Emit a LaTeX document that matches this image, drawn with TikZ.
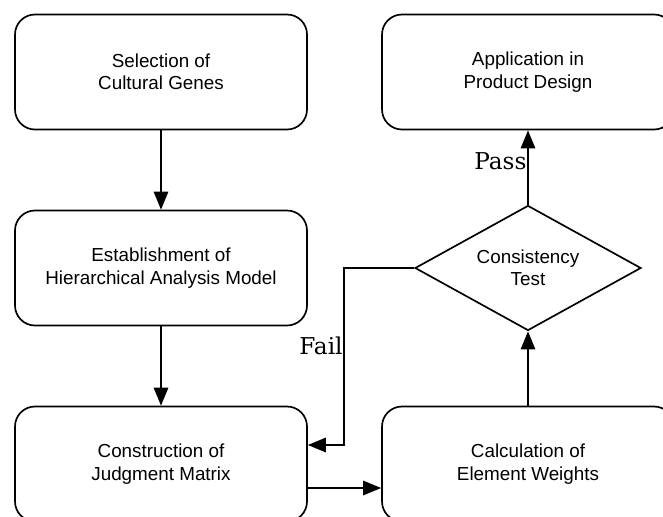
\documentclass[tikz,border=0pt]{standalone}
\usepackage{fontspec}
\setsansfont{Liberation Sans}
\newfontfamily\tagfont{DejaVu Serif}
\usetikzlibrary{shapes.geometric,arrows.meta}
\begin{document}
\begin{tikzpicture}[
       node distance=4.9cm,
       stepbox/.style={rectangle, draw=black, line width=1.2pt, minimum width=7.3cm, minimum height=2.875cm, align=center, rounded corners=0.5cm, font=\sffamily\fontsize{13.4}{16}\selectfont},
       decision/.style={diamond, draw=black, line width=1.2pt, shape aspect=1.81, minimum width=5.65cm, minimum height=3.125cm, inner sep=0pt, align=center, font=\sffamily\fontsize{13.4}{16}\selectfont},
       arrow/.style={-{Triangle[length=0.45cm, width=0.36cm]}, line width=1.2pt, black},
       tag/.style={font=\tagfont\fontsize{16.5}{20}\selectfont, inner sep=0.5pt}
   ]
   \useasboundingbox (0,0) rectangle (16.575,-12.9);
   \node[stepbox] (select) at (4.025,-1.8) {Selection of\\Cultural Genes};
   \node[stepbox, below of=select] (model) {Establishment of\\Hierarchical Analysis Model};
   \node[stepbox, below of=model] (matrix) {Construction of\\Judgment Matrix};
   \node[stepbox] (weights) at (13.2,-11.6) {Calculation of\\Element Weights};
   \node[decision] (test) at (13.2,-6.7) {Consistency\\Test};
   \node[stepbox] (apply) at (13.2,-1.8) {Application in\\Product Design};

   \draw[arrow] (select) -- (model);
   \draw[arrow] (model) -- (matrix);
   \draw[arrow] ([yshift=-0.6cm]matrix.east) -- ([yshift=-0.6cm]weights.west);
   \draw[arrow] (weights) -- (test);
   \draw[arrow] (test) -- node[tag, left, pos=0.58] {Pass} (apply);
   \draw[arrow] (test.west) -- ++(-1.75,0) |- node[tag, left, pos=0.22] {Fail} ([yshift=0.475cm]matrix.east);
   \end{tikzpicture}
\end{document}
